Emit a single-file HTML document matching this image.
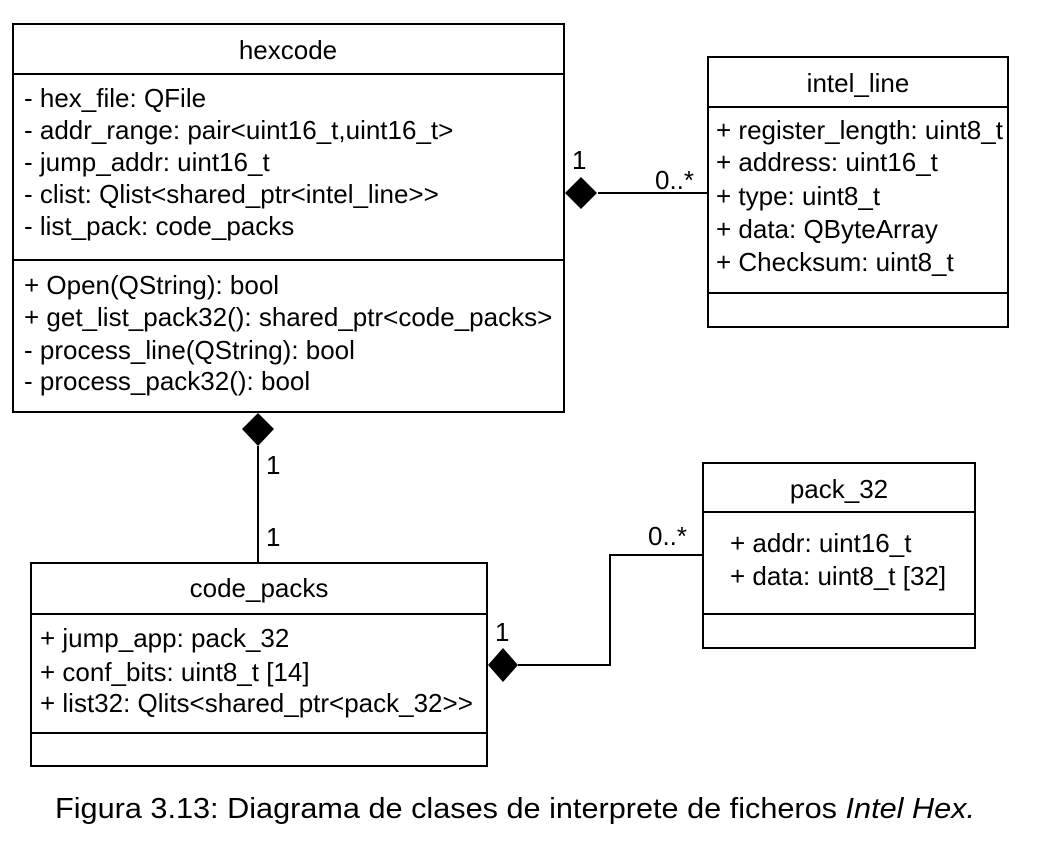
<!DOCTYPE html>
<html><head><style>
body{margin:0;background:#fff;}
svg text{font-family:"Liberation Sans",Arial,sans-serif;font-size:26px;fill:#000;}
</style></head><body>
<svg width="1045" height="836" xmlns="http://www.w3.org/2000/svg">
<g fill="none" stroke="#000" stroke-width="2">
<rect x="13" y="24" width="551" height="388"/>
<line x1="13" y1="74" x2="564" y2="74"/>
<line x1="13" y1="260" x2="564" y2="260"/>
<rect x="708" y="57" width="300" height="270"/>
<line x1="708" y1="107" x2="1008" y2="107"/>
<line x1="708" y1="293" x2="1008" y2="293"/>
<rect x="31" y="563" width="456" height="203"/>
<line x1="31" y1="614" x2="487" y2="614"/>
<line x1="31" y1="733" x2="487" y2="733"/>
<rect x="703" y="463" width="272" height="185"/>
<line x1="703" y1="512" x2="975" y2="512"/>
<line x1="703" y1="614" x2="975" y2="614"/>
<line x1="598" y1="193" x2="708" y2="193"/>
<line x1="258" y1="446" x2="258" y2="563"/>
<polyline points="518,665 610,665 610,555 703,555"/>
</g>
<g fill="#000">
<polygon points="565,193 581,177 597,193 581,209"/>
<polygon points="258,413 274,429 258,446 242,429"/>
<polygon points="488,665 503,648 518,665 503,682"/>
</g>
<text x="288" y="59" text-anchor="middle">hexcode</text>
<text x="24" y="107">- hex_file: QFile</text>
<text x="24" y="139">- addr_range: pair&lt;uint16_t,uint16_t&gt;</text>
<text x="24" y="171">- jump_addr: uint16_t</text>
<text x="24" y="203">- clist: Qlist&lt;shared_ptr&lt;intel_line&gt;&gt;</text>
<text x="24" y="235">- list_pack: code_packs</text>
<text x="24" y="294">+ Open(QString): bool</text>
<text x="24" y="326">+ get_list_pack32(): shared_ptr&lt;code_packs&gt;</text>
<text x="24" y="359">- process_line(QString): bool</text>
<text x="24" y="390">- process_pack32(): bool</text>
<text x="858" y="92" text-anchor="middle">intel_line</text>
<text x="716" y="139">+ register_length: uint8_t</text>
<text x="716" y="171">+ address: uint16_t</text>
<text x="716" y="205">+ type: uint8_t</text>
<text x="716" y="238">+ data: QByteArray</text>
<text x="716" y="271">+ Checksum: uint8_t</text>
<text x="259" y="597" text-anchor="middle">code_packs</text>
<text x="40" y="647">+ jump_app: pack_32</text>
<text x="40" y="681">+ conf_bits: uint8_t [14]</text>
<text x="40" y="712">+ list32: Qlits&lt;shared_ptr&lt;pack_32&gt;&gt;</text>
<text x="839" y="498" text-anchor="middle">pack_32</text>
<text x="730" y="552">+ addr: uint16_t</text>
<text x="730" y="585">+ data: uint8_t [32]</text>
<text x="572" y="169">1</text>
<text x="655" y="189">0..*</text>
<text x="266" y="474">1</text>
<text x="266" y="546">1</text>
<text x="495" y="641">1</text>
<text x="648" y="545">0..*</text>
<text x="55" y="818" style="font-size:29px" textLength="920" lengthAdjust="spacingAndGlyphs">Figura 3.13: Diagrama de clases de interprete de ficheros <tspan font-style="italic">Intel Hex.</tspan></text>
</svg>
</body></html>
